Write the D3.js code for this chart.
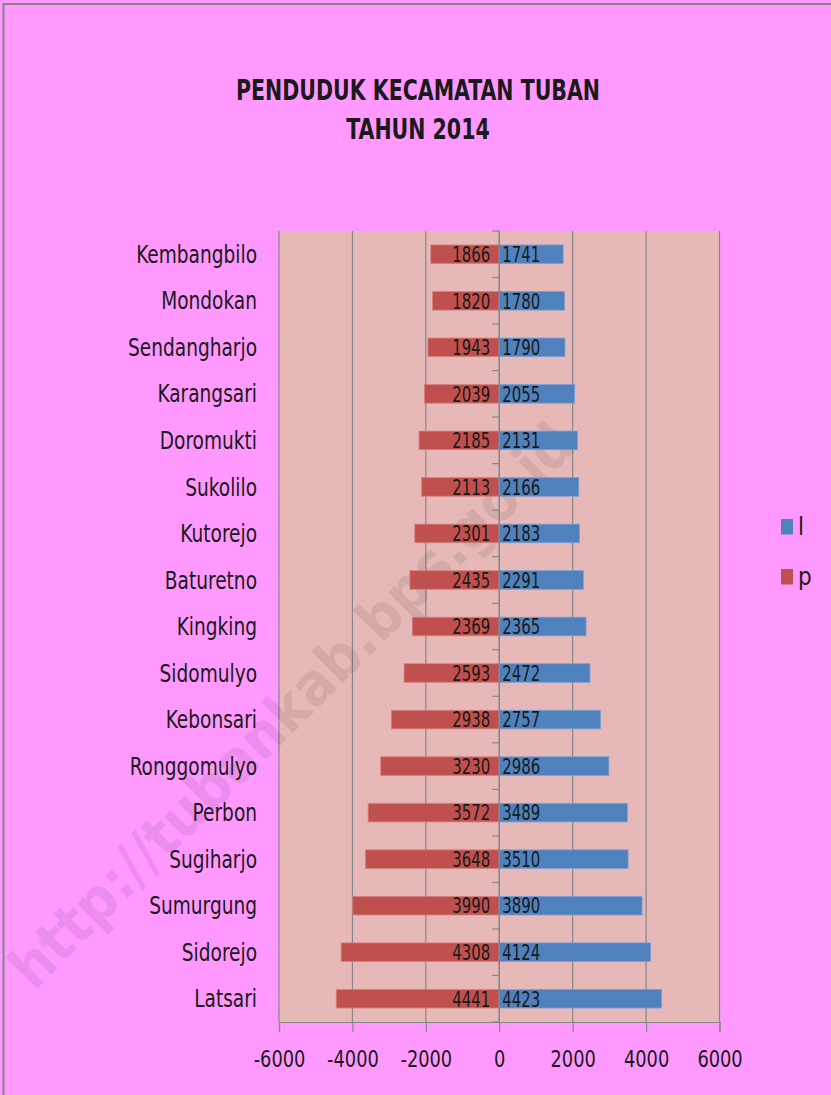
<!DOCTYPE html>
<html>
<head>
<meta charset="utf-8">
<script src="https://cdn.jsdelivr.net/npm/d3@7"></script>
<style>
  html, body { margin: 0; padding: 0; background: #ff99ff; }
  svg { display: block; }
  text { font-family: "DejaVu Sans Condensed", "DejaVu Sans", sans-serif; fill: #1a1a1a; }
</style>
</head>
<body>
<div id="chart"></div>
<script>
// Données
const kecamatan = ["Kembangbilo", "Mondokan", "Sendangharjo", "Karangsari", "Doromukti",
  "Sukolilo", "Kutorejo", "Baturetno", "Kingking", "Sidomulyo", "Kebonsari",
  "Ronggomulyo", "Perbon", "Sugiharjo", "Sumurgung", "Sidorejo", "Latsari"];
const lakiLaki  = [1741, 1780, 1790, 2055, 2131, 2166, 2183, 2291, 2365, 2472, 2757, 2986, 3489, 3510, 3890, 4124, 4423];
const perempuan = [1866, 1820, 1943, 2039, 2185, 2113, 2301, 2435, 2369, 2593, 2938, 3230, 3572, 3648, 3990, 4308, 4441];
const ticksX    = [-6000, -4000, -2000, 0, 2000, 4000, 6000];
const seriesNames = ["l", "p"];
const titre = ["PENDUDUK KECAMATAN TUBAN", "TAHUN 2014"];

const largeur = 831, hauteur = 1095;
const plot = { x0: 279, x1: 719.5, y0: 231, y1: 1022 };
const couleurs = { l: "#4f81bd", p: "#c0504d" };

const svg = d3.select("#chart").append("svg")
  .attr("width", largeur).attr("height", hauteur);

// texte compressé horizontalement (police étroite type Calibri)
function etroit(sel, sx, fx, fy) {
  sel.attr("transform", (d, i) => `translate(${fx(d, i)},${fy(d, i)}) scale(${sx},1)`);
}

// Fond + bordure
svg.append("rect").attr("width", largeur).attr("height", hauteur).attr("fill", "#ff99ff");
svg.append("rect").attr("x", 3.5).attr("y", 4).attr("width", largeur + 10).attr("height", hauteur + 10)
  .attr("fill", "none").attr("stroke", "#868686").attr("stroke-width", 2);

// Échelles
const x = d3.scaleLinear().domain([-6000, 6000]).range([plot.x0, plot.x1]);
const y = d3.scaleBand().domain(kecamatan).range([plot.y0, plot.y1]).paddingInner(0.6).paddingOuter(0.3);
const yPos = d3.scaleBand().domain(kecamatan).range([plot.y0, plot.y1]);

// Zone de tracé
svg.append("rect").attr("x", plot.x0).attr("y", plot.y0)
  .attr("width", plot.x1 - plot.x0).attr("height", plot.y1 - plot.y0)
  .attr("fill", "#e6b9b8");

// Grille verticale
svg.append("g").selectAll("line").data(ticksX).join("line")
  .attr("x1", d => x(d)).attr("x2", d => x(d))
  .attr("y1", plot.y0).attr("y2", plot.y1)
  .attr("stroke", "#868686").attr("stroke-width", 1.2);

// Filigrane
svg.append("text")
  .attr("transform", "translate(34,992) rotate(-45)")
  .style("font-family", "'DejaVu Sans Condensed', 'DejaVu Sans', sans-serif")
  .attr("font-weight", "bold").attr("font-size", 59)
  .style("fill", "#000").attr("fill-opacity", 0.08)
  .text("http://tubankab.bps.go.id");

// Barres
const gBars = svg.append("g");
gBars.selectAll(".bar-p").data(kecamatan).join("rect").attr("class", "bar-p")
  .attr("x", (d, i) => x(-perempuan[i])).attr("y", d => y(d))
  .attr("width", (d, i) => x(0) - x(-perempuan[i])).attr("height", y.bandwidth())
  .attr("fill", couleurs.p).attr("stroke", "#d9807e").attr("stroke-width", 0.8);
gBars.selectAll(".bar-l").data(kecamatan).join("rect").attr("class", "bar-l")
  .attr("x", x(0)).attr("y", d => y(d))
  .attr("width", (d, i) => x(lakiLaki[i]) - x(0)).attr("height", y.bandwidth())
  .attr("fill", couleurs.l).attr("stroke", "#7aa0d4").attr("stroke-width", 0.8);

// Axe vertical à zéro avec graduations
const axeY = svg.append("g");
axeY.append("line").attr("x1", x(0)).attr("x2", x(0)).attr("y1", plot.y0).attr("y2", plot.y1)
  .attr("stroke", "#868686").attr("stroke-width", 1.2);
const bornes = kecamatan.map(d => yPos(d)).concat([plot.y1]);
axeY.selectAll(".tk").data(bornes).join("line").attr("class", "tk")
  .attr("x1", x(0) - 7).attr("x2", x(0)).attr("y1", d => d).attr("y2", d => d)
  .attr("stroke", "#868686").attr("stroke-width", 1.2);

// Étiquettes des catégories
svg.append("g").selectAll("text").data(kecamatan).join("text")
  .attr("dy", "0.36em").attr("text-anchor", "end").attr("font-size", 24)
  .call(etroit, 0.86, () => 257, d => yPos(d) + yPos.bandwidth() / 2)
  .text(d => d);

// Étiquettes de valeurs
const gLab = svg.append("g").attr("font-size", 20.5);
gLab.selectAll(".lab-p").data(kecamatan).join("text").attr("class", "lab-p")
  .attr("dy", "0.38em").attr("text-anchor", "end")
  .call(etroit, 0.81, () => x(0) - 9, d => y(d) + y.bandwidth() / 2)
  .text((d, i) => perempuan[i]);
gLab.selectAll(".lab-l").data(kecamatan).join("text").attr("class", "lab-l")
  .attr("dy", "0.38em").attr("text-anchor", "start")
  .call(etroit, 0.81, () => x(0) + 3, d => y(d) + y.bandwidth() / 2)
  .text((d, i) => lakiLaki[i]);

// Axe horizontal
const axeX = svg.append("g").attr("transform", `translate(0,${plot.y1})`)
  .call(d3.axisBottom(x).tickValues(ticksX).tickSize(10).tickPadding(22).tickFormat(d3.format("d")));
axeX.select(".domain").attr("stroke", "#868686").attr("stroke-width", 1.2);
axeX.selectAll(".tick line").attr("stroke", "#868686").attr("stroke-width", 1.2);
axeX.selectAll(".tick text")
  .style("font-family", "'DejaVu Sans Condensed', 'DejaVu Sans', sans-serif")
  .attr("font-size", 23).style("fill", "#1a1a1a")
  .attr("y", null).attr("dy", null)
  .call(etroit, 0.86, () => 0, () => 1067 - plot.y1)
  .text(d => d < 0 ? "-" + Math.abs(d) : d);

// Titre
svg.append("g").selectAll("text").data(titre).join("text")
  .attr("text-anchor", "middle").attr("font-weight", "bold").attr("font-size", 27.5)
  .call(etroit, 0.83, () => 418, (d, i) => 100 + i * 39)
  .text(d => d);

// Légende
const leg = svg.append("g").selectAll("g").data(seriesNames).join("g")
  .attr("transform", (d, i) => `translate(781,${519 + i * 50})`);
leg.append("rect").attr("width", 12).attr("height", 15.5).attr("fill", d => couleurs[d]);
leg.append("text").attr("x", 17).attr("y", 15.5).attr("font-size", 24).text(d => d);
</script>
</body>
</html>
